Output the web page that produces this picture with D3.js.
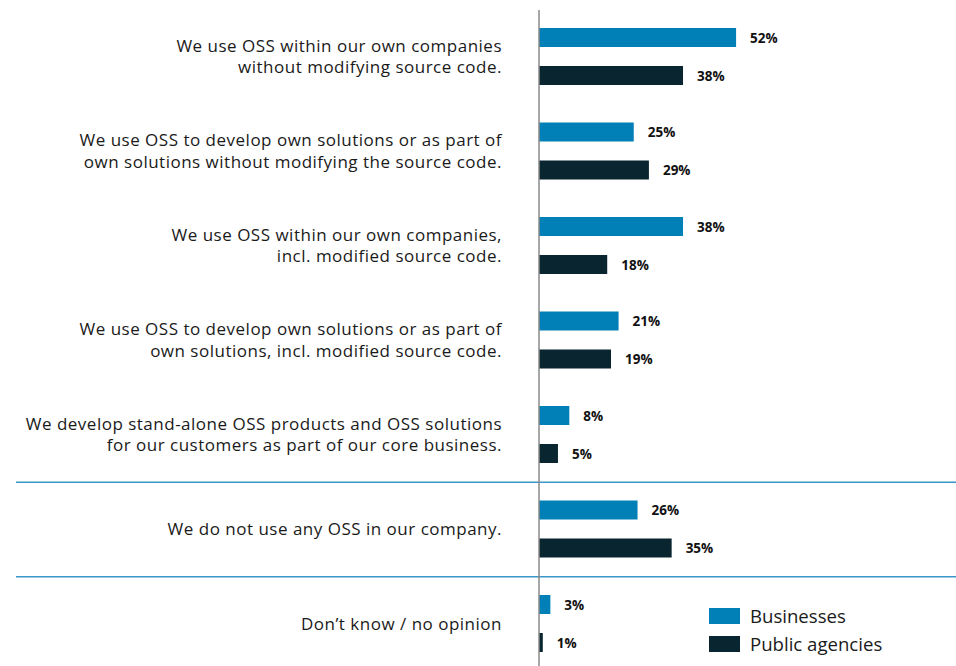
<!DOCTYPE html>
<html><head><meta charset="utf-8">
<script src="https://cdn.jsdelivr.net/npm/d3@7"></script>
<style>body{margin:0;background:#fff}svg{display:block}</style>
</head><body>
<svg id="chart" width="956" height="666"></svg>
<script>
const categories = [
  ["We use OSS within our own companies","without modifying source code."],
  ["We use OSS to develop own solutions or as part of","own solutions without modifying the source code."],
  ["We use OSS within our own companies,","incl. modified source code."],
  ["We use OSS to develop own solutions or as part of","own solutions, incl. modified source code."],
  ["We develop stand-alone OSS products and OSS solutions","for our customers as part of our core business."],
  ["We do not use any OSS in our company."],
  ["Don’t know / no opinion"]
];
const businesses = [52, 25, 38, 21, 8, 26, 3];
const publicAgencies = [38, 29, 18, 19, 5, 35, 1];
const seriesNames = ["Businesses", "Public agencies"];
const colors = ["#0080b6", "#09252f"];
const separatorsAfter = [4, 5];

const svg = d3.select("#chart");
const font = "'Open Sans', sans-serif";
const x0 = 539;
const x = d3.scaleLinear().domain([0, 100]).range([x0, x0 + 379]);
const y = d3.scaleBand().domain(d3.range(categories.length)).range([9.25, 670.75]).padding(0);
const barH = 19;

// separators
separatorsAfter.forEach(i => {
  const yy = y(i) + y.bandwidth() + 0.5;
  svg.append("line").attr("x1", 16).attr("x2", 956).attr("y1", yy).attr("y2", yy)
    .attr("stroke", "#3a95c8").attr("stroke-width", 1.3);
});

const g = svg.selectAll("g.grp").data(categories).join("g")
  .attr("transform", (d,i) => `translate(0,${y(i) + y.bandwidth()/2})`);

// labels
g.each(function(lines){
  const n = lines.length;
  lines.forEach((l, k) => {
    d3.select(this).append("text").attr("text-anchor","end")
      .attr("font-family", font).attr("font-size", 17).attr("letter-spacing", 0.5)
      .attr("fill", "#1a1a1a")
      .attr("x", 502).attr("y", (k - (n-1)/2) * 21.5 + 6).text(l);
  });
});

const series = [businesses, publicAgencies];
series.forEach((vals, s) => {
  const off = s === 0 ? -19 : 19;
  g.append("rect")
    .attr("x", x(0)).attr("y", off - barH/2)
    .attr("width", (d,i) => x(vals[i]) - x(0)).attr("height", barH)
    .attr("fill", colors[s]);
  g.append("text")
    .attr("x", (d,i) => x(vals[i]) + 14).attr("y", off + 5)
    .attr("font-family", font).attr("font-weight", 700).attr("font-size", 13.5)
    .attr("fill", "#111").text((d,i) => vals[i] + "%");
});

// axis line
svg.append("line").attr("x1", x0).attr("x2", x0).attr("y1", 10).attr("y2", 666)
  .attr("stroke", "#8a8a8a").attr("stroke-width", 1.5);

// legend
const lg = svg.append("g").attr("transform", "translate(709,608)");
seriesNames.forEach((n, i) => {
  lg.append("rect").attr("x", 0).attr("y", i*28).attr("width", 31).attr("height", 16).attr("fill", colors[i]);
  lg.append("text").attr("x", 41).attr("y", i*28 + 15).attr("font-family", font)
    .attr("font-size", 18.6).attr("fill", "#1a1a1a").text(n);
});
</script>
</body></html>
